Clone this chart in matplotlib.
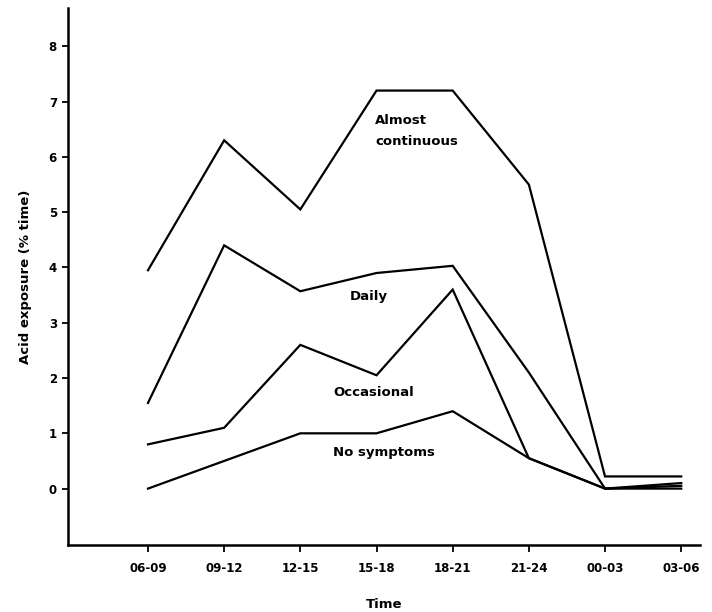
import matplotlib
matplotlib.use("Agg")
import matplotlib.pyplot as plt

# time slots (3-hour windows)
times = ["06-09", "09-12", "12-15", "15-18", "18-21", "21-24", "00-03", "03-06"]

# acid exposure (% time) per symptom group
almost_continuous = [3.95, 6.3, 5.05, 7.2, 7.2, 5.5, 0.22, 0.22]
daily = [1.55, 4.4, 3.57, 3.9, 4.03, 2.1, 0.0, 0.1]
occasional = [0.8, 1.1, 2.6, 2.05, 3.6, 0.55, 0.0, 0.05]
no_symptoms = [0.0, 0.5, 1.0, 1.0, 1.4, 0.55, 0.0, 0.0]

yticks = [0, 1, 2, 3, 4, 5, 6, 7, 8]

plt.rcParams['font.family'] = ['DejaVu Sans']

fig = plt.figure(figsize=(7.12, 6.12), dpi=100)
ax = fig.add_axes([0.0955, 0.1095, 0.888, 0.878])

x = list(range(len(times)))
for series in (almost_continuous, daily, occasional, no_symptoms):
    ax.plot(x, series, color='black', lw=1.6, solid_joinstyle='miter')

ax.set_xlim(-1.05, 7.25)
ax.set_ylim(-1.02, 8.7)
ax.set_xticks(x)
ax.set_xticklabels(times, fontsize=8.5, fontweight='bold')
ax.set_yticks(yticks)
ax.set_yticklabels([str(v) for v in yticks], fontsize=8.5, fontweight='bold')
ax.tick_params(axis='y', direction='out', length=4, width=1.3, pad=4)
ax.tick_params(axis='x', direction='out', length=5, width=1.3, pad=7)

for side in ('top', 'right'):
    ax.spines[side].set_visible(False)
for side in ('left', 'bottom'):
    ax.spines[side].set_linewidth(1.8)

ax.set_ylabel("Acid exposure (% time)", fontsize=9.5, fontweight='bold', labelpad=12)
ax.set_xlabel("Time", fontsize=9.5, fontweight='bold', labelpad=17)

lab = dict(fontsize=9.5, fontweight='bold', color='black')
ax.text(2.98, 6.47, "Almost\ncontinuous", ha='left', va='center', linespacing=1.75, **lab)
ax.text(2.9, 3.47, "Daily", ha='center', va='center', **lab)
ax.text(2.97, 1.74, "Occasional", ha='center', va='center', **lab)
ax.text(3.1, 0.65, "No symptoms", ha='center', va='center', **lab)

fig.savefig("out.png", dpi=100)
